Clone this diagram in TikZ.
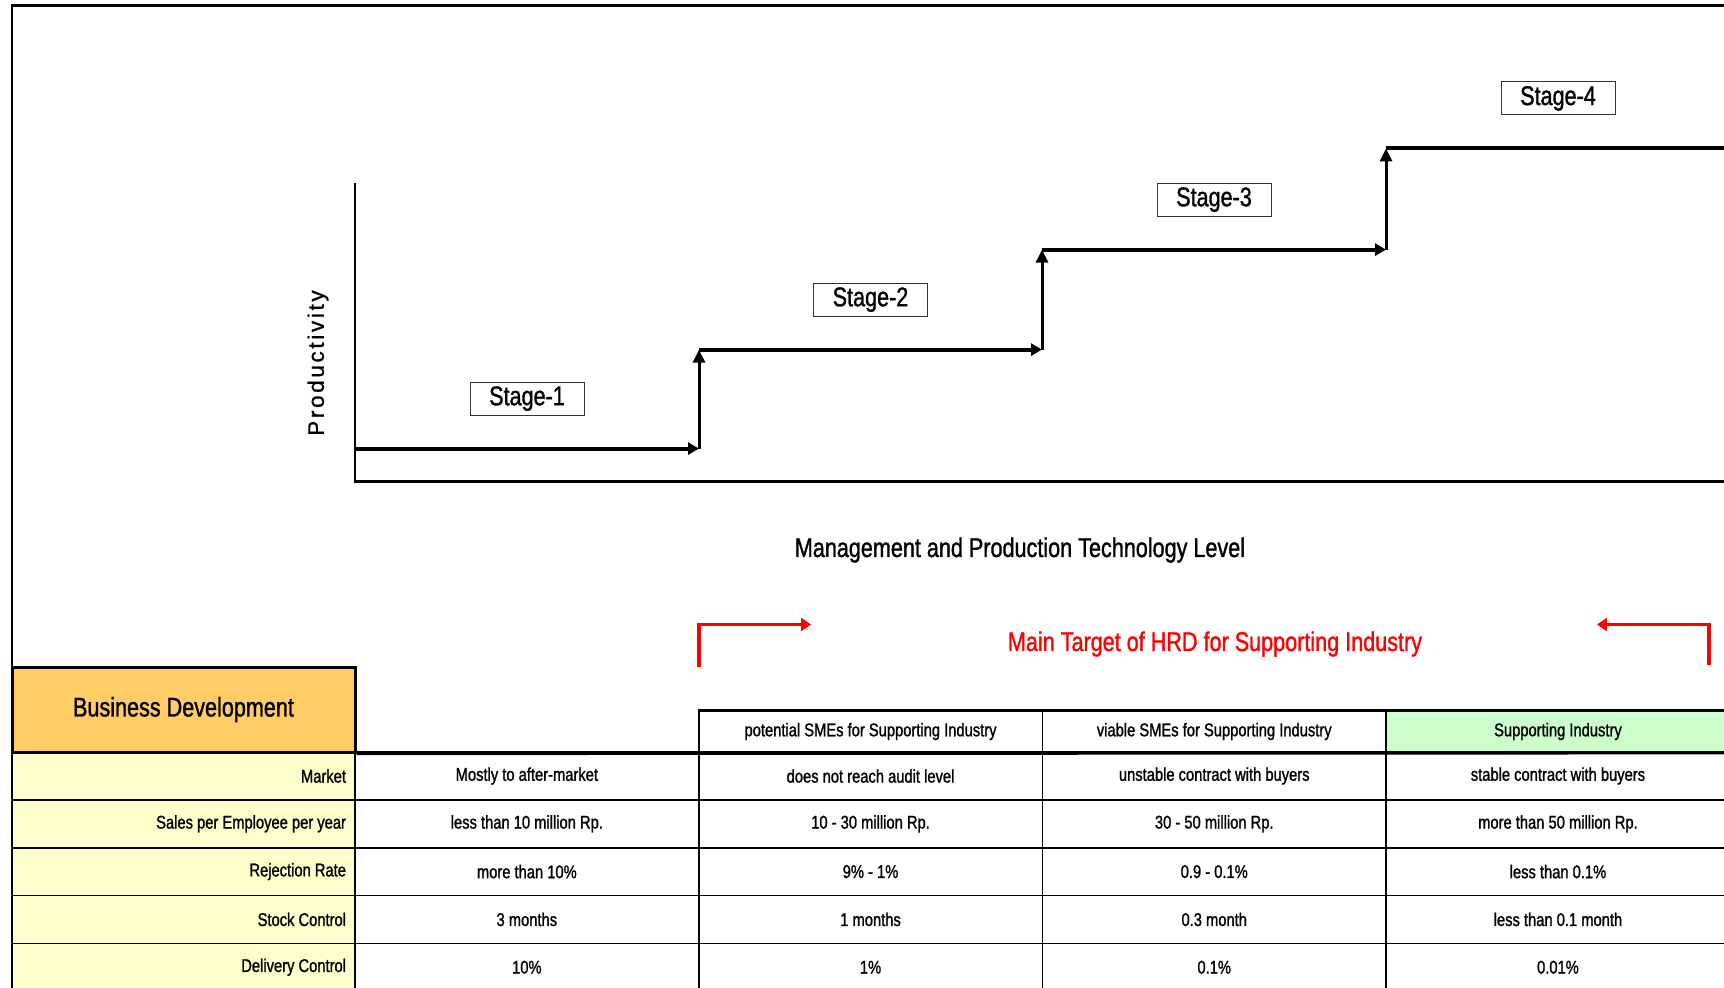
\documentclass[tikz,border=0pt]{standalone}
\usepackage{fontspec}
\setmainfont{Liberation Sans}[FakeStretch=0.8, FakeBold=1.2]
\newfontfamily\prodfont{Liberation Sans}[LetterSpace=12, FakeBold=1]
\usepackage{tikz}
\usetikzlibrary{arrows.meta,positioning,calc}
\definecolor{BizOrange}{HTML}{FFCC66}
\definecolor{BizYellow}{HTML}{FFFFCC}
\definecolor{BizGreen}{HTML}{CCFFCC}
\definecolor{TargetRed}{HTML}{FF0000}

\begin{document}
\begin{tikzpicture}[x=0.5pt, y=-0.5pt,
  every node/.style={font=\fontsize{9.2}{11}\selectfont, inner sep=0pt},
  big/.style={font=\fontsize{13.5}{16}\selectfont},
  stage/.style={big, draw=black!80, fill=white, line width=0.5pt,
                minimum width=57pt, minimum height=16.5pt},
  stair/.style={-{Triangle[length=5.5pt,width=6pt]}, line width=2pt},
  riser/.style={-{Triangle[length=6.5pt,width=6pt]}, line width=1.5pt},
  axis/.style={line width=1.2pt},
  bracket/.style={-{Triangle[length=5pt,width=6.5pt]}, draw=TargetRed, line width=1.7pt},
  bizdev/.style={big, draw, fill=BizOrange, line width=1.5pt,
                 minimum width=171.5pt, minimum height=42.5pt},
  rowhead/.style={draw, fill=BizYellow, line width=0.8pt, text width=162.5pt,
                  align=flush right, inner xsep=4.5pt, minimum height=23.9pt},
  cell/.style={draw, fill=white, line width=0.8pt, minimum width=171.85pt, minimum height=23.9pt},
  colhead/.style={cell, minimum height=20.5pt},
  rule/.style={line width=1.6pt},
]
\useasboundingbox (0,0) rectangle (1724,987);
\draw[line width=1.35pt] (12,1000) -- (12,5.7) -- (1730,5.7);

\coordinate (ytop) at (355,182.5);
\coordinate (orig) at (355,481.6);
\coordinate (xend) at (1730,481.6);
\draw[axis] (ytop) -- (orig) -- (xend);
\node[rotate=90, font=\prodfont\fontsize{11.2}{13}\selectfont] (ylab) at (318,363) {Productivity};
\node[big] (xlab) at (1020,550) {Management and Production Technology Level};

\coordinate (l1) at (355,448.6);  \coordinate (r1) at (699,448.6);
\coordinate (l2) at (699,349.6);  \coordinate (r2) at (1042,349.6);
\coordinate (l3) at (1042,249.6); \coordinate (r3) at (1386,249.6);
\coordinate (l4) at (1386,148.4); \coordinate (r4) at (1730,148.4);
\foreach \i [evaluate=\i as \j using int(\i+1)] in {1,2,3} {
  \draw[stair] (l\i) -- (r\i);
  \draw[riser] (r\i) -- (l\j);
}
\draw[line width=2pt] (l4) -- (r4);
\foreach \i in {1,...,4}
  \node[stage] (st\i) at ($(l\i)!0.5!(r\i)+(0,-50)$) {Stage-\i};

\node[big, text=TargetRed] (goal) at (1215,644) {Main Target of HRD for Supporting Industry};
\coordinate (tgl0) at (699,667);  \coordinate (tgl1) at (699,624.5);  \coordinate (tgl2) at (811,624.5);
\coordinate (tgr0) at (1709,665); \coordinate (tgr1) at (1709,624.5); \coordinate (tgr2) at (1597,624.5);
\draw[bracket] (tgl0) -- (tgl1) -- (tgl2);
\draw[bracket] (tgr0) -- (tgr1) -- (tgr2);

\foreach \lab/\ca/\cb/\cc/\cd [count=\r] in {
  Market/Mostly to after-market/does not reach audit level/unstable contract with buyers/stable contract with buyers,
  Sales per Employee per year/less than 10 million Rp./10 - 30 million Rp./30 - 50 million Rp./more than 50 million Rp.,
  Rejection Rate/more than 10\%/9\% - 1\%/0.9 - 0.1\%/less than 0.1\%,
  Stock Control/3 months/1 months/0.3 month/less than 0.1 month,
  Delivery Control/10\%/1\%/0.1\%/0.01\%} {
  \pgfmathsetmacro{\yy}{776+47.8*(\r-1)}
  \node[rowhead] (rh\r) at (183.5,\yy) {\lab};
  \node[cell] (c\r-1) at (526.85,\yy) {\ca};
  \node[cell] (c\r-2) at (870.55,\yy) {\cb};
  \node[cell] (c\r-3) at (1214.25,\yy) {\cc};
  \node[cell] (c\r-4) at (1557.95,\yy) {\cd};
}
\node[bizdev] (biz) at (183.5,709.5) {Business Development};
\node[colhead] (hd2) at (870.55,731.5) {potential SMEs for Supporting Industry};
\node[colhead] (hd3) at (1214.25,731.5) {viable SMEs for Supporting Industry};
\node[colhead, fill=BizGreen] (hd4) at (1557.95,731.5) {Supporting Industry};
\draw[rule] (hd2.north west) -- (hd4.north east);
\draw[rule] (biz.south east) -- (hd4.south east);
\end{tikzpicture}
\end{document}
